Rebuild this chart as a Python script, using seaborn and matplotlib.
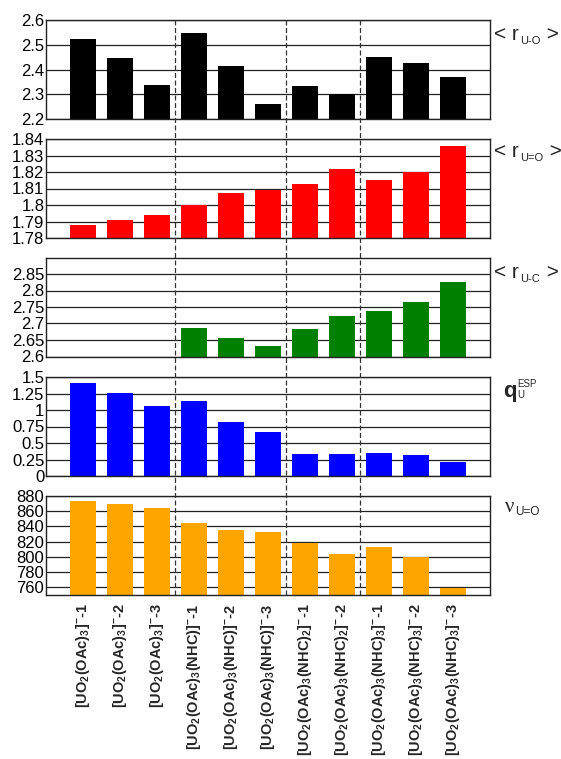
import numpy as np
import pandas as pd
import seaborn as sns
import matplotlib
matplotlib.use("Agg")
import matplotlib.pyplot as plt

# ---- data -------------------------------------------------------------
complexes = [
    r"$\mathbf{[UO_2(OAc)_3]^{-}}$-1",
    r"$\mathbf{[UO_2(OAc)_3]^{-}}$-2",
    r"$\mathbf{[UO_2(OAc)_3]^{-}}$-3",
    r"$\mathbf{[UO_2(OAc)_3(NHC)]^{-}}$-1",
    r"$\mathbf{[UO_2(OAc)_3(NHC)]^{-}}$-2",
    r"$\mathbf{[UO_2(OAc)_3(NHC)]^{-}}$-3",
    r"$\mathbf{[UO_2(OAc)_3(NHC)_2]^{-}}$-1",
    r"$\mathbf{[UO_2(OAc)_3(NHC)_2]^{-}}$-2",
    r"$\mathbf{[UO_2(OAc)_3(NHC)_3]^{-}}$-1",
    r"$\mathbf{[UO_2(OAc)_3(NHC)_3]^{-}}$-2",
    r"$\mathbf{[UO_2(OAc)_3(NHC)_3]^{-}}$-3",
]
group_sizes = [3, 3, 2, 3]

r_u_o = [2.522, 2.446, 2.339, 2.546, 2.415, 2.261, 2.332, 2.302, 2.450, 2.426, 2.371]
r_u_eq_o = [1.788, 1.791, 1.794, 1.800, 1.807, 1.809, 1.813, 1.822, 1.815, 1.820, 1.836]
r_u_c = [np.nan, np.nan, np.nan, 2.686, 2.656, 2.631, 2.683, 2.722, 2.738, 2.766, 2.827]
q_esp = [1.41, 1.26, 1.06, 1.14, 0.82, 0.67, 0.33, 0.33, 0.35, 0.32, 0.21]
nu_u_eq_o = [874, 869, 864, 845, 836, 833, 818, 804, 813, 800, 759]

ticks_r_u_o = [2.2, 2.3, 2.4, 2.5, 2.6]
ticks_r_u_eq_o = [1.78, 1.79, 1.80, 1.81, 1.82, 1.83, 1.84]
ticks_r_u_c = [2.6, 2.65, 2.7, 2.75, 2.8, 2.85]
ticks_q = [0, 0.25, 0.5, 0.75, 1, 1.25, 1.5]
ticks_nu = [760, 780, 800, 820, 840, 860, 880]

# ---- style --------------------------------------------------------------
sns.set_theme(style="white")
plt.rcParams["font.family"] = ["Liberation Sans", "DejaVu Sans"]
plt.rcParams["mathtext.fontset"] = "custom"
plt.rcParams["mathtext.rm"] = "Liberation Sans"
plt.rcParams["mathtext.bf"] = "Liberation Sans:bold"
plt.rcParams["mathtext.it"] = "Liberation Sans:italic"

W, H = 561, 759
fig = plt.figure(figsize=(W / 100, H / 100), dpi=100)
fig.patch.set_facecolor("white")

LEFT, RIGHT = 45.7, 490.0
TOPS = [20.0, 139.0, 257.5, 377.0, 496.0]
PANEL_H = 99.0
LINE = "#222222"


def frac(x, y):
    """pixel position measured from the top-left corner -> figure fraction"""
    return x / W, 1 - y / H


panels = [
    (r_u_o, "black", (2.2, 2.6), ticks_r_u_o),
    (r_u_eq_o, "#ff0000", (1.78, 1.84), ticks_r_u_eq_o),
    (r_u_c, "#008000", (2.6, 2.9), ticks_r_u_c),
    (q_esp, "#0000ff", (0, 1.5), ticks_q),
    (nu_u_eq_o, "#ffa500", (750, 880), ticks_nu),
]

axes = []
for i, (vals, col, ylim, ticks) in enumerate(panels):
    top = TOPS[i]
    ax = fig.add_axes([LEFT / W, 1 - (top + PANEL_H) / H,
                       (RIGHT - LEFT) / W, PANEL_H / H])
    df = pd.DataFrame({"complex": complexes, "value": vals}).dropna()
    sns.barplot(data=df, x="complex", y="value", order=complexes,
                color=col, saturation=1, width=0.7, ax=ax, zorder=2,
                linewidth=0, errorbar=None)
    ax.set_axisbelow(True)
    ax.set_xlim(-1, len(complexes))
    ax.set_ylim(*ylim)
    ax.set_yticks(ticks)
    ax.set_yticklabels([f"{t:g}" for t in ticks])
    ax.yaxis.grid(True, color=LINE, lw=0.9)
    ax.xaxis.grid(False)
    ax.set_xlabel("")
    ax.set_ylabel("")
    ax.tick_params(axis="y", length=0, pad=1, labelsize=12, colors="black")
    ax.tick_params(axis="x", length=0)
    for s in ax.spines.values():
        s.set_visible(True)
        s.set_color(LINE)
        s.set_linewidth(1.0)
    ax.set_facecolor("white")
    axes.append(ax)

for ax in axes[:-1]:
    ax.tick_params(axis="x", labelbottom=False)

bottom_ax = axes[-1]
bottom_ax.set_xticks(range(len(complexes)))
bottom_ax.set_xticklabels(complexes, rotation=90, fontsize=10.5,
                          fontweight="bold", va="top", ha="center")
bottom_ax.tick_params(axis="x", pad=6)

# dashed separators between complex families, spanning all panels
overlay = fig.add_axes([LEFT / W, 1 - (TOPS[-1] + PANEL_H) / H,
                        (RIGHT - LEFT) / W, (TOPS[-1] + PANEL_H - TOPS[0]) / H])
overlay.set_xlim(-1, len(complexes))
overlay.set_ylim(0, 1)
overlay.axis("off")
overlay.patch.set_visible(False)
for b in np.cumsum(group_sizes)[:-1] - 0.5:
    overlay.axvline(b, color="#333333", lw=0.9, ls=(0, (4, 2)))

# ---- quantity labels on the right -------------------------------------
renderer = fig.canvas.get_renderer()


def composite(x, y, head, sub, tail="", size=15, sub_size=8, drop=4,
              sup=None, sup_size=6, rise=8, head_kw=None):
    head_kw = head_kw or {}
    t = fig.text(*frac(x, y), head, fontsize=size, va="baseline", ha="left",
                 **head_kw)
    bb = t.get_window_extent(renderer)
    xs = bb.x1 + 1
    s = fig.text(xs / W, (H - y - drop) / H, sub, fontsize=sub_size,
                 va="baseline", ha="left")
    sb = s.get_window_extent(renderer)
    end = sb.x1
    if sup is not None:
        p = fig.text(xs / W, (H - y + rise) / H, sup, fontsize=sup_size,
                     va="baseline", ha="left")
        end = max(end, p.get_window_extent(renderer).x1)
    if tail:
        fig.text((end + 1) / W, (H - y) / H, tail, fontsize=size,
                 va="baseline", ha="left")


composite(494, TOPS[0] + 20, "< r", "U-O", " >")
composite(494, TOPS[1] + 18, "< r", "U=O", " >")
composite(494, TOPS[2] + 20, "< r", "U-C", " >")
composite(503, TOPS[3] + 20, "q", "U", sup="ESP", size=16, sub_size=7,
          drop=1, sup_size=7, rise=10, head_kw={"fontweight": "bold"})
composite(505, TOPS[4] + 16, "ν", "U=O", size=15, sub_size=8.5, drop=3,
          head_kw={"family": ["Liberation Serif", "DejaVu Serif"]})

fig.savefig("out.png", dpi=100)
